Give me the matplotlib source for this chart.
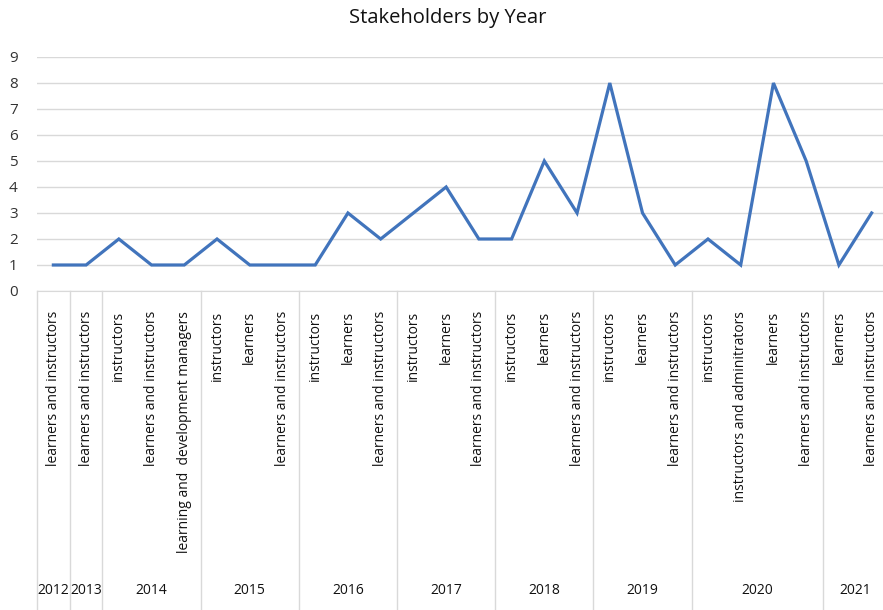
import matplotlib.pyplot as plt
from matplotlib.transforms import blended_transform_factory

plt.rcParams['font.family'] = ['Open Sans', 'DejaVu Sans']

years = ['2012', '2013', '2014', '2015', '2016', '2017', '2018', '2019', '2020', '2021']
groups = [
    ['learners and instructors'],
    ['learners and instructors'],
    ['instructors', 'learners and instructors', 'learning and  development managers'],
    ['instructors', 'learners', 'learners and instructors'],
    ['instructors', 'learners', 'learners and instructors'],
    ['instructors', 'learners', 'learners and instructors'],
    ['instructors', 'learners', 'learners and instructors'],
    ['instructors', 'learners', 'learners and instructors'],
    ['instructors', 'instructors and adminitrators', 'learners', 'learners and instructors'],
    ['learners', 'learners and instructors'],
]
counts = [1, 1, 2, 1, 1, 2, 1, 1, 1, 3, 2, 3, 4, 2, 2, 5, 3, 8, 3, 1, 2, 1, 8, 5, 1, 3]

W, H = 883, 610
fig = plt.figure(figsize=(W / 100, H / 100), dpi=100)
ax = fig.add_axes([37 / W, (H - 291) / H, (888 - 37) / W, (291 - 57) / H])

n = len(counts)
x = list(range(n))
ax.plot(x, counts, color='#4174BC', lw=2.3, solid_joinstyle='miter')

ax.set_xlim(-0.5, n - 0.5)
ax.set_ylim(0, 9)
ax.set_yticks(range(10))
ax.set_xticks([])
ax.tick_params(axis='y', length=0, labelsize=11, colors='#333333', pad=14)
ax.grid(axis='y', color='#D9D9D9', lw=1)
ax.set_axisbelow(True)
for s in ['top', 'right', 'left']:
    ax.spines[s].set_visible(False)
ax.spines['bottom'].set_color('#D9D9D9')

fig.text(448 / W, 1 - 18 / H, 'Stakeholders by Year', fontsize=14.5,
         color='#111111', ha='center', va='center')

# category axis below the plot: item labels, year labels and year separators
tr = blended_transform_factory(ax.transData, ax.transAxes)
px = 1 / (291 - 57)
bottom = -(H - 291) * px
i = 0
edges = [-0.5]
for year, items in zip(years, groups):
    for name in items:
        ax.text(i, -20 * px, name, rotation=90, ha='center', va='top',
                fontsize=10, color='#111111', transform=tr, clip_on=False)
        i += 1
    edges.append(i - 0.5)
    mid = i - len(items) / 2 - 0.5
    ax.text(mid, -300 * px, year, ha='center', va='center', fontsize=10,
            color='#111111', transform=tr, clip_on=False)
for e in edges:
    ax.plot([e, e], [0, bottom], color='#D9D9D9', lw=1, transform=tr, clip_on=False)

fig.savefig('out.png', dpi=100)
